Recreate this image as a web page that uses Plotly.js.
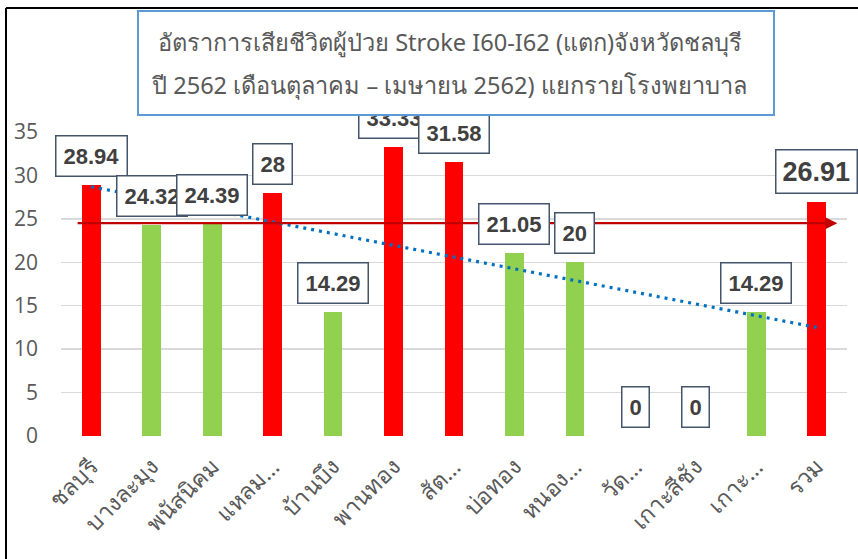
<!DOCTYPE html>
<html>
<head>
<meta charset="utf-8">
<script src="https://cdn.plot.ly/plotly-3.0.1.min.js"></script>
<style>html,body{margin:0;padding:0;background:#fff;}#chart{width:858px;height:559px;}</style>
</head>
<body>
<div id="chart"></div>
<script>
// ---- data ----
const categories = ["ชลบุรี","บางละมุง","พนัสนิคม","แหลม…","บ้านบึง","พานทอง","สัต…","บ่อทอง","หนอง…","วัด…","เกาะสีชัง","เกาะ…","รวม"];
const rates = [28.94, 24.32, 24.39, 28, 14.29, 33.33, 31.58, 21.05, 20, 0, 0, 14.29, 26.91];
const rateLabels = ["28.94","24.32","24.39","28","14.29","33.33","31.58","21.05","20","0","0","14.29","26.91"];
const trendValues = [28.7, 12.5];          // dotted trendline, first & last category
const referenceValue = [24.5];              // red target line
const titleLines = ["อัตราการเสียชีวิตผู้ป่วย Stroke I60-I62 (แตก)จังหวัดชลบุรี",
                    "ปี 2562 เดือนตุลาคม – เมษายน 2562) แยกรายโรงพยาบาล"];

// ---- styles ----
const RED = "#ff0000", GREEN = "#92d050";
const barColors = ["red","green","green","red","green","red","red","green","green","green","green","green","red"]
  .map(c => c === "red" ? RED : GREEN);
const txtFont = "Liberation Sans, Arial, sans-serif";
const thaiFont = "Noto Sans, Tahoma, sans-serif";

const traces = [
  {type:"bar", x:categories, y:rates, width:0.31, marker:{color:barColors},
   hoverinfo:"skip", showlegend:false},
  {type:"scatter", mode:"lines", x:[categories[0], categories[categories.length-1]], y:trendValues,
   line:{color:"#0070c0", width:3.2, dash:"3px,5px"}, hoverinfo:"skip", showlegend:false}
];

const annotations = [];
// reference arrow line
annotations.push({x:12.34, y:referenceValue[0], xref:"x", yref:"y",
  ax:-0.25, ay:referenceValue[0], axref:"x", ayref:"y", text:"",
  showarrow:true, arrowhead:2, arrowsize:1.1, arrowwidth:2.2, arrowcolor:"#c00000"});
// data labels
rateLabels.forEach((lab, i) => {
  const last = i === rateLabels.length - 1;
  annotations.push({x:categories[i], y:rates[i], xref:"x", yref:"y",
    text:"<b>"+lab+"</b>", showarrow:false, yanchor:"bottom", yshift:8,
    font:{family:txtFont, size:last?27:22, color:"#404040"},
    bgcolor:"#ffffff", bordercolor:"#44546a", borderwidth:1.5, borderpad:last?6:7});
});
// title box
annotations.push({x:0.5025, y:1.227, xref:"paper", yref:"paper", xanchor:"center", yanchor:"middle",
  text:" ", showarrow:false, width:634, height:102, borderpad:0,
  bgcolor:"#ffffff", bordercolor:"#5b9bd5", borderwidth:2});
annotations.push({x:0.5025, y:1.296, xref:"paper", yref:"paper", xanchor:"center", yanchor:"middle", xshift:-6,
  text:titleLines[0], showarrow:false, font:{family:thaiFont, size:23.6, color:"#595959"}});
annotations.push({x:0.5025, y:1.155, xref:"paper", yref:"paper", xanchor:"center", yanchor:"middle", xshift:-6,
  text:titleLines[1], showarrow:false, font:{family:thaiFont, size:23.6, color:"#595959"}});

const layout = {
  width:858, height:559,
  margin:{l:61, r:11, t:132, b:123},
  paper_bgcolor:"#ffffff", plot_bgcolor:"#ffffff",
  showlegend:false,
  bargap:0,
  xaxis:{type:"category", categoryorder:"array", categoryarray:categories,
    range:[-0.5, 12.5], showgrid:false, zeroline:false, showline:false, ticks:"",
    ticklabelstandoff:12,
    tickangle:-45, tickfont:{family:thaiFont, size:23, color:"#595959"}, fixedrange:true},
  yaxis:{range:[0,35], dtick:5, tick0:0, showgrid:true, gridcolor:"#d9d9d9", gridwidth:1.5,
    zeroline:false, showline:false, ticks:"", ticklabelstandoff:22,
    tickfont:{family:"Open Sans, sans-serif", size:21, color:"#595959"}, fixedrange:true},
  shapes:[
    {type:"line", xref:"paper", yref:"paper", x0:(6-61)/786, x1:(900-61)/786, y0:(436-8)/304, y1:(436-8)/304,
     line:{color:"#000000", width:2}, layer:"below"},
    {type:"line", xref:"paper", yref:"paper", x0:(6-61)/786, x1:(6-61)/786, y0:(436-8)/304, y1:(436-600)/304,
     line:{color:"#000000", width:2}, layer:"below"}
  ],
  annotations:annotations
};

Plotly.newPlot("chart", traces, layout, {displayModeBar:false, staticPlot:true});
</script>
</body>
</html>
